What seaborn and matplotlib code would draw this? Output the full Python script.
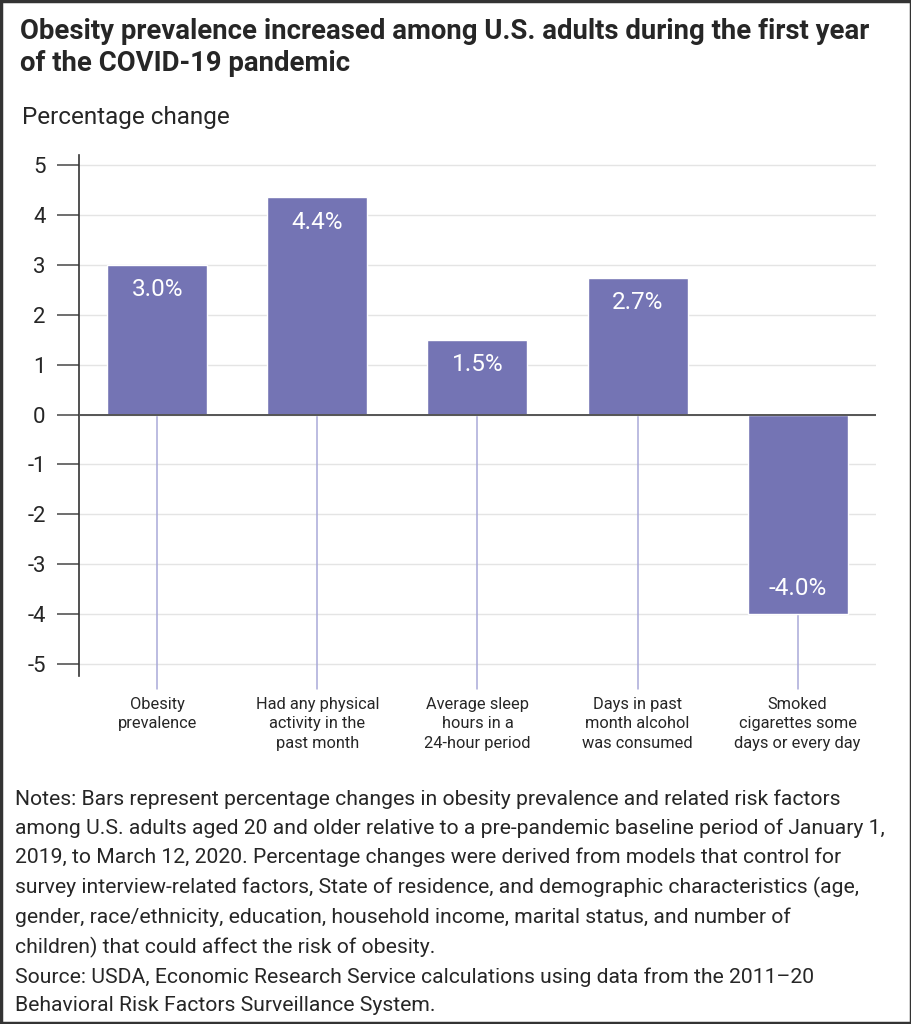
import matplotlib
matplotlib.use("Agg")
import matplotlib.pyplot as plt
import seaborn as sns
import pandas as pd
import numpy as np
from matplotlib.patches import Rectangle

categories = ["Obesity\nprevalence",
              "Had any physical\nactivity in the\npast month",
              "Average sleep\nhours in a\n24-hour period",
              "Days in past\nmonth alcohol\nwas consumed",
              "Smoked\ncigarettes some\ndays or every day"]
values = [3.0, 4.35, 1.5, 2.74, -3.99]
value_labels = ["3.0%", "4.4%", "1.5%", "2.7%", "-4.0%"]
yticks = [5, 4, 3, 2, 1, 0, -1, -2, -3, -4, -5]

title = "Obesity prevalence increased among U.S. adults during the first year\nof the COVID-19 pandemic"
notes = ("Notes: Bars represent percentage changes in obesity prevalence and related risk factors\n"
         "among U.S. adults aged 20 and older relative to a pre-pandemic baseline period of January 1,\n"
         "2019, to March 12, 2020. Percentage changes were derived from models that control for\n"
         "survey interview-related factors, State of residence, and demographic characteristics (age,\n"
         "gender, race/ethnicity, education, household income, marital status, and number of\n"
         "children) that could affect the risk of obesity.")
source = ("Source: USDA, Economic Research Service calculations using data from the 2011\u201320\n"
          "Behavioral Risk Factors Surveillance System.")

sns.set_theme(style="white")
plt.rcParams['font.family'] = ['Roboto', 'DejaVu Sans']

df = pd.DataFrame({"cat": categories, "val": values})
bar_color = "#7474b4"

fig = plt.figure(figsize=(9.12, 10.24), dpi=100)
ax = fig.add_axes([0.0866, 0.3398, 0.8739, 0.5088])

sns.barplot(data=df, x="cat", y="val", color=bar_color, width=0.625,
            saturation=1, ax=ax, zorder=3)

# thin category lines hanging below the bars
for i, v in enumerate(values):
    ax.plot([i, i], [min(v, 0), -5.5], color="#a9a9d9", lw=1.1,
            clip_on=False, zorder=2)

for i, (v, lab) in enumerate(zip(values, value_labels)):
    off = -18 if v > 0 else 18
    ax.annotate(lab, (i, v), xytext=(0, off), textcoords="offset points",
                ha="center", va="center", color="white", fontsize=17.5, zorder=4)

ax.set_ylim(-5.24, 5.2)
ax.set_xlim(-0.49, 4.49)
ax.set_yticks(yticks)
ax.set_yticklabels([str(t) for t in yticks], fontsize=16)
ax.tick_params(axis="y", length=16, width=1.2, color="#555555", pad=8, left=True)
ax.tick_params(axis="x", length=0, pad=15)
ax.set_xticks(range(len(categories)))
ax.set_xticklabels(categories, fontsize=11.8, linespacing=1.36, va="top")
ax.set_xlabel("")
ax.set_ylabel("")
ax.grid(axis="y", color="#e4e4e4", lw=1, zorder=0)
ax.axhline(0, color="#555555", lw=1.4, zorder=5)

for s in ["top", "right", "bottom"]:
    ax.spines[s].set_visible(False)
ax.spines["left"].set_color("#333333")
ax.spines["left"].set_linewidth(1.2)

fig.text(0.022, 0.982, title, fontsize=19.8, fontweight="bold",
         va="top", ha="left", linespacing=1.2)
fig.text(0.024, 0.885, "Percentage change", fontsize=17.5, va="center", ha="left")
fig.text(0.0165, 0.229, notes + "\n" + source, fontsize=15.2, va="top", ha="left",
         linespacing=1.61)

fig.patches.append(Rectangle((0.001, 0.001), 0.998, 0.998, transform=fig.transFigure,
                             fill=False, edgecolor="#333333", lw=2.5))

fig.savefig("out.png", dpi=100)
